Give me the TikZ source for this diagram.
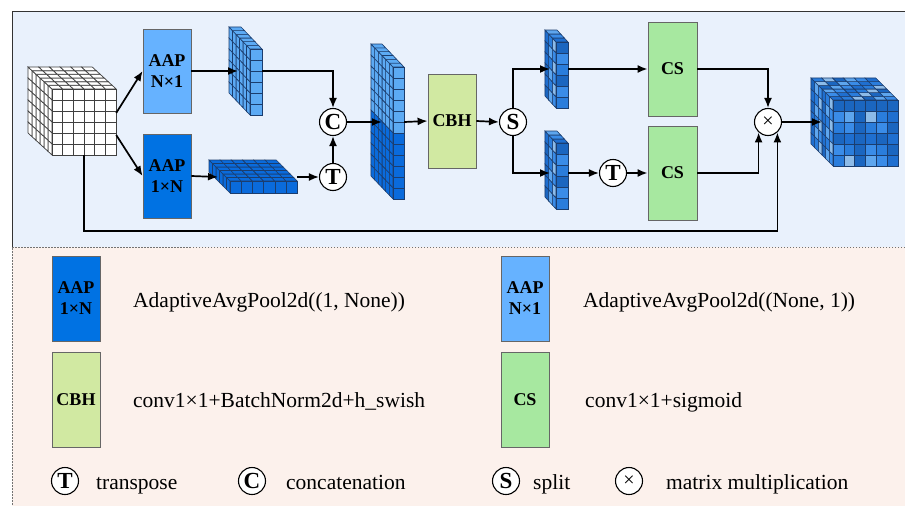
\documentclass[tikz,border=0pt]{standalone}
\usepackage{fontspec}
\setmainfont{Liberation Serif}
\usepackage{xcolor}
\usepackage{tikz}
\usetikzlibrary{arrows.meta}

\definecolor{upbg}{HTML}{E9F1FC}
\definecolor{lowbg}{HTML}{FCF1EC}
\definecolor{aapv}{HTML}{66B2FF}
\definecolor{aaph}{HTML}{0072E3}
\definecolor{cbhgreen}{HTML}{D1E9A2}
\definecolor{csgreen}{HTML}{A7E8A0}
\definecolor{slablight}{HTML}{5CAAF4}
\definecolor{slabdark}{HTML}{0A6BDC}
\definecolor{edgeblue}{HTML}{1B3D6E}
\definecolor{mix0}{HTML}{1F6FD0}
\definecolor{mix1}{HTML}{3A8CE8}
\definecolor{mix2}{HTML}{5EA6EE}
\definecolor{mix3}{HTML}{1B66C0}
\definecolor{mix4}{HTML}{8DBBE8}
\definecolor{mix5}{HTML}{2A7DDC}

\tikzset{
  modbox/.style={draw=black!60,line width=0.8pt,minimum width=48pt,inner sep=0pt,align=center,
    font=\fontsize{18}{21}\selectfont\bfseries},
  opnode/.style={circle,draw=black,line width=1.1pt,fill=white,minimum size=27pt,inner sep=0pt,
    font=\fontsize{23}{23}\selectfont\bfseries},
  blk/.style={inner sep=0pt,draw=none},
  legtext/.style={anchor=base west,inner sep=0pt,font=\fontsize{21.5}{24}\selectfont},
  arr/.style={-{Latex[length=10pt,width=8pt]},line width=1.7pt},
  cellwhite/.code args={#1/#2/#3}{\pgfkeysalso{fill=white,draw=black!75,line width=0.7pt}},
  celllight/.code args={#1/#2/#3}{\pgfkeysalso{fill=slablight,draw=edgeblue,line width=0.6pt}},
  celldark/.code args={#1/#2/#3}{\pgfkeysalso{fill=slabdark,draw=edgeblue,line width=0.6pt}},
  cellhalf/.code args={#1/#2/#3}{\ifnum#2<7 \pgfkeysalso{fill=slablight,draw=edgeblue,line width=0.6pt}%
    \else\pgfkeysalso{fill=slabdark,draw=edgeblue,line width=0.6pt}\fi},
  cellmix/.code args={#1/#2/#3}{\pgfmathtruncatemacro\cidx{mod(#1*5+#2*3+#3*7+#1*#2,6)}%
    \edef\tmpkeys{\noexpand\pgfkeysalso{fill=mix\cidx,draw=edgeblue,line width=0.6pt}}\tmpkeys},
}

% nx, ny, nz, cell width, cell height, depth dx, depth dy, cell style
\newcommand\gridcube[8]{%
  \foreach \k in {1,...,#3}{\foreach \j in {1,...,#2}{
    \path[#8=0/\j/\k] ({(\k-1)*#6},{(\j-1)*#5+(\k-1)*#7}) -- ({\k*#6},{(\j-1)*#5+\k*#7})
      -- ({\k*#6},{\j*#5+\k*#7}) -- ({(\k-1)*#6},{\j*#5+(\k-1)*#7}) -- cycle;}}
  \foreach \i in {1,...,#1}{\foreach \k in {1,...,#3}{
    \path[#8=\i/0/\k] ({(\i-1)*#4+(\k-1)*#6},{(\k-1)*#7}) -- ({\i*#4+(\k-1)*#6},{(\k-1)*#7})
      -- ({\i*#4+\k*#6},{\k*#7}) -- ({(\i-1)*#4+\k*#6},{\k*#7}) -- cycle;}}
  \foreach \i in {1,...,#1}{\foreach \j in {1,...,#2}{
    \path[#8=\i/\j/0] ({(\i-1)*#4},{(\j-1)*#5}) rectangle ({\i*#4},{\j*#5});}}
}

\begin{document}
\begin{tikzpicture}[x=1pt,y=-1pt]
\useasboundingbox (0,0) rectangle (905,506);
\fill[upbg] (12,11) rectangle (905,247);
\fill[lowbg] (12,247) rectangle (905,506);
\draw[black!80,line width=0.8pt] (12,247) -- (12,11) -- (905,11);
\draw[black!55,line width=0.6pt,dash pattern=on 1.5pt off 1.5pt] (905,247) -- (12,247) -- (12,506);

\begin{scope}[shift={(52,89)}]\gridcube{6}{6}{6}{10.7}{11}{-4}{-3.67}{cellwhite}\end{scope}
\begin{scope}[shift={(250,49)}]\gridcube{1}{6}{6}{12}{11}{-3.5}{-3.67}{celllight}\end{scope}
\begin{scope}[shift={(230,181)}]\gridcube{6}{1}{6}{11.2}{12}{-3.5}{-3.5}{celldark}\end{scope}
\begin{scope}[shift={(393,67)}]\gridcube{1}{12}{6}{11}{11}{-3.67}{-3.83}{cellhalf}\end{scope}
\begin{scope}[shift={(556,42)}]\gridcube{1}{6}{3}{12}{11}{-3.67}{-4}{cellmix}\end{scope}
\begin{scope}[shift={(556,143)}]\gridcube{1}{6}{3}{12}{11}{-3.67}{-4}{cellmix}\end{scope}
\begin{scope}[shift={(833,100)}]\gridcube{6}{6}{6}{10.8}{11}{-3.67}{-3.67}{cellmix}\end{scope}

\node[blk,minimum width=64pt,minimum height=66pt] (incube) at (84,122) {};
\node[blk,minimum width=12pt,minimum height=66pt] (slabv) at (256,82) {};
\node[blk,minimum width=67pt,minimum height=12pt] (plate) at (263.5,187) {};
\node[blk,minimum width=11pt,minimum height=132pt] (column) at (398.5,133) {};
\node[blk,minimum width=12pt,minimum height=66pt] (upsplit) at (562,75) {};
\node[blk,minimum width=12pt,minimum height=66pt] (lowsplit) at (562,176) {};
\node[blk,minimum width=65pt,minimum height=66pt] (outcube) at (865.5,133) {};
\coordinate (slabvin) at (238,71);
\coordinate (platein) at (218,177);
\coordinate (columnin) at (382,122);
\coordinate (upsplitin) at (550,69);
\coordinate (lowsplitin) at (550,173);
\coordinate (outcubein) at (822,122);

\node[modbox,fill=aapv,minimum height=84pt] (aapnv) at (167,71) {AAP\\N×1};
\node[modbox,fill=aaph,minimum height=84pt] (aapnh) at (167,176) {AAP\\1×N};
\node[modbox,fill=cbhgreen,minimum height=94pt] (cbh) at (452,121) {CBH};
\node[modbox,fill=csgreen,minimum width=49pt,minimum height=94pt] (csup) at (672.5,69) {CS};
\node[modbox,fill=csgreen,minimum width=49pt,minimum height=94pt] (cslow) at (672.5,173) {CS};

\node[opnode] (cat) at (333,122) {C};
\node[opnode] (trone) at (333,177) {T};
\node[opnode] (split) at (513,122) {S};
\node[opnode] (trtwo) at (613,173) {T};
\node[opnode,font=\fontsize{20}{20}\selectfont] (mul) at (768,122) {×};

\draw[arr] ([yshift=9pt]incube.east) -- (aapnv.west);
\draw[arr] ([yshift=-13pt]incube.east) -- (aapnh.west);
\draw[arr] (aapnv.east) -- (slabvin);
\draw[arr] (slabvin -| slabv.east) -| (cat.north);
\draw[arr] (aapnh.east) -- (platein);
\draw[arr] (platein -| plate.east) -- (trone.west);
\draw[arr] (trone.north) -- (cat.south);
\draw[arr] (cat.east) -- (columnin);
\draw[arr] (columnin -| column.east) -- (cbh.west);
\draw[arr] (cbh.east) -- (split.west);
\draw[arr] (split.north) |- (upsplitin);
\draw[arr] (split.south) |- (lowsplitin);
\draw[arr] (upsplitin -| upsplit.east) -- (csup.west);
\draw[arr] (lowsplitin -| lowsplit.east) -- (trtwo.west);
\draw[arr] (trtwo.east) -- (cslow.west);
\draw[arr] (csup.east) -| (mul.north);
\draw[arr] (cslow.east) -| (mul.-132);
\draw[arr] (incube.south) -- ++(0,76) -| (mul.-48);
\draw[arr] (mul.east) -- (outcubein);

\node[modbox,fill=aaph,minimum height=85pt] (legaaph) at (76,298.5) {AAP\\1×N};
\node[legtext] (legaaphtext) at (133,307) {AdaptiveAvgPool2d((1, None))};
\node[modbox,fill=cbhgreen,minimum height=95pt] (legcbh) at (76,399.5) {CBH};
\node[legtext] (legcbhtext) at (133,407) {conv1×1+BatchNorm2d+h\_swish};
\node[modbox,fill=aapv,minimum height=85pt] (legaapv) at (525,298.5) {AAP\\N×1};
\node[legtext] (legaapvtext) at (583,307) {AdaptiveAvgPool2d((None, 1))};
\node[modbox,fill=csgreen,minimum height=95pt] (legcs) at (525,399.5) {CS};
\node[legtext] (legcstext) at (585,407) {conv1×1+sigmoid};
\node[opnode] (legtr) at (65,481) {T};
\node[legtext] (legtrtext) at (96,489) {transpose};
\node[opnode] (legcat) at (252,481) {C};
\node[legtext] (legcattext) at (286,489) {concatenation};
\node[opnode] (legsplit) at (506,481) {S};
\node[legtext] (legsplittext) at (533,489) {split};
\node[opnode,font=\fontsize{20}{20}\selectfont] (legmul) at (629,481) {×};
\node[legtext] (legmultext) at (666,489) {matrix multiplication};
\end{tikzpicture}
\end{document}
